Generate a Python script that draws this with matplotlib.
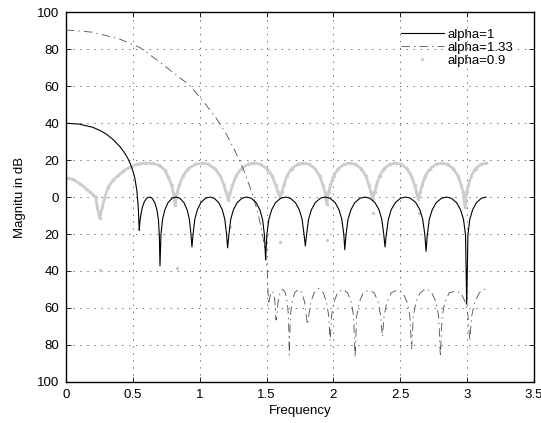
import numpy as np
import matplotlib
matplotlib.use("Agg")
import matplotlib.pyplot as plt

# alpha = 1 (solid black)
x_a1 = [0, 0.1, 0.2, 0.25, 0.3, 0.35, 0.4, 0.43, 0.46, 0.48, 0.5, 0.515, 0.53, 0.54, 0.548,
        0.553, 0.560, 0.571, 0.587, 0.607, 0.626, 0.644, 0.664, 0.680, 0.691, 0.698, 0.703,
        0.710, 0.722, 0.739, 0.763, 0.794, 0.8225, 0.851, 0.882, 0.906, 0.923, 0.935, 0.942,
        0.950, 0.963, 0.982, 1.009, 1.043, 1.0755, 1.108, 1.142, 1.169, 1.188, 1.201, 1.209,
        1.218, 1.232, 1.252, 1.280, 1.317, 1.351, 1.385, 1.422, 1.450, 1.470, 1.484, 1.493,
        1.502, 1.517, 1.538, 1.567, 1.606, 1.6415, 1.677, 1.716, 1.745, 1.766, 1.781, 1.790,
        1.799, 1.814, 1.835, 1.864, 1.903, 1.9385, 1.974, 2.013, 2.042, 2.063, 2.078, 2.085,
        2.094, 2.109, 2.131, 2.160, 2.199, 2.2355, 2.272, 2.311, 2.341, 2.362, 2.377, 2.386,
        2.395, 2.411, 2.432, 2.463, 2.503, 2.5395, 2.576, 2.616, 2.647, 2.668, 2.684, 2.693,
        2.702, 2.717, 2.739, 2.769, 2.809, 2.845, 2.881, 2.921, 2.951, 2.973, 2.988, 2.997,
        3.006, 3.020, 3.041, 3.070, 3.107, 3.1416]
y_a1 = [40, 39.5, 37.8, 36.2, 34.2, 31.3, 27.6, 24.8, 21.3, 18.2, 14.2, 10.2, 3.5, -5, -18,
        -13, -9.5, -5.5, -2.3, -0.4, 0, -0.6, -3.0, -6.9, -12.1, -20.5, -37.3,
        -20.5, -12.1, -6.9, -3.0, -0.6, 0, -0.6, -3.0, -6.9, -12.1, -20.5, -27,
        -20.5, -12.1, -6.9, -3.0, -0.6, 0, -0.6, -3.0, -6.9, -12.1, -20.5, -27.5,
        -20.5, -12.1, -6.9, -3.0, -0.6, 0, -0.6, -3.0, -6.9, -12.1, -20.5, -34,
        -20.5, -12.1, -6.9, -3.0, -0.6, 0, -0.6, -3.0, -6.9, -12.1, -20.5, -26.5,
        -20.5, -12.1, -6.9, -3.0, -0.6, 0, -0.6, -3.0, -6.9, -12.1, -20.5, -28.5,
        -20.5, -12.1, -6.9, -3.0, -0.6, 0, -0.6, -3.0, -6.9, -12.1, -20.5, -27,
        -20.5, -12.1, -6.9, -3.0, -0.6, 0, -0.6, -3.0, -6.9, -12.1, -20.5, -29.4,
        -20.5, -12.1, -6.9, -3.0, -0.6, 0, -0.6, -3.0, -6.9, -12.1, -20.5, -58,
        -20.5, -12.1, -6.9, -3.0, -0.6, 0]

# alpha = 1.33 (dash-dot)
x_a133 = [0, 0.2, 0.4, 0.553, 0.703, 0.8, 0.927, 1.03, 1.127, 1.2, 1.264, 1.33, 1.389, 1.43,
          1.464, 1.49, 1.505, 1.515,
          1.522, 1.532, 1.543, 1.554, 1.563, 1.571,
          1.577, 1.586, 1.601, 1.6205, 1.640, 1.655, 1.664, 1.670,
          1.678, 1.690, 1.7105, 1.7375, 1.7645, 1.785, 1.797, 1.805,
          1.815, 1.8305, 1.856, 1.890, 1.924, 1.9495, 1.965, 1.975,
          1.986, 2.003, 2.031, 2.0685, 2.106, 2.134, 2.151, 2.162,
          2.174, 2.193, 2.223, 2.264, 2.305, 2.335, 2.354, 2.366,
          2.379, 2.399, 2.432, 2.4755, 2.519, 2.552, 2.572, 2.585,
          2.598, 2.617, 2.6495, 2.6925, 2.7355, 2.768, 2.787, 2.800,
          2.813, 2.833, 2.866, 2.910, 2.954, 2.987, 3.007, 3.020,
          3.034, 3.056, 3.092, 3.1416]
y_a133 = [90.5, 89.3, 85.6, 81, 73, 67.5, 60.4, 51.5, 42.4, 34, 25, 14.5, 2.7, -7,
          -18, -29, -40, -58,
          -55, -52, -51, -52, -57, -66.6,
          -64.5, -57, -51.8, -50, -51.8, -57, -64.5, -85.6,
          -64.5, -57, -51.8, -50, -51.8, -57, -64.5, -69,
          -64.5, -57, -51.8, -49.5, -51.8, -57, -64.5, -78,
          -64.5, -57, -51.8, -50, -51.8, -57, -64.5, -87,
          -64.5, -57, -51.8, -50.5, -51.8, -57, -64.5, -75.6,
          -64.5, -57, -51.8, -50.5, -51.8, -57, -64.5, -82,
          -64.5, -57, -51.8, -49.5, -51.8, -57, -64.5, -86.5,
          -64.5, -57, -51.8, -51, -51.8, -57, -64.5, -78,
          -64.5, -57, -51.8, -49.5]

# alpha = 0.9 (light grey dots)
x_a09 = [0, 0.05, 0.105, 0.15, 0.18, 0.205, 0.222, 0.234, 0.253, 0.27, 0.29, 0.316, 0.35,
         0.391, 0.43, 0.479, 0.53, 0.591, 0.65, 0.703, 0.74, 0.765, 0.79, 0.805, 0.815,
         0.831, 0.847, 0.875, 0.915, 0.967, 1.0145, 1.062, 1.114, 1.154, 1.182, 1.198, 1.214,
         1.229, 1.245, 1.272, 1.3105, 1.3607, 1.407, 1.453, 1.5035, 1.542, 1.569, 1.585, 1.60,
         1.614, 1.628, 1.6525, 1.6875, 1.733, 1.775, 1.817, 1.8625, 1.8975, 1.922, 1.936, 1.95,
         1.964, 1.9775, 2.0016, 2.036, 2.0807, 2.122, 2.1633, 2.208, 2.2424, 2.2665, 2.2802, 2.294,
         2.3076, 2.3213, 2.3452, 2.3793, 2.4236, 2.4645, 2.5054, 2.5498, 2.5839, 2.6077, 2.6214, 2.635,
         2.649, 2.663, 2.6874, 2.7223, 2.7676, 2.8095, 2.8514, 2.8968, 2.9317, 2.9561, 2.970, 2.984,
         2.997, 3.009, 3.031, 3.063, 3.104, 3.1416]
y_a09 = [10.5, 9.6, 7.2, 4.6, 2.7, 1.2, 0, -5.6, -11.5, -5.6, 0, 5.4, 9,
         11.7, 14.2, 16.2, 17.8, 18.4, 18.2, 17.1, 14.5, 10.8, 6.3, 1.5, -4.5,
         2.5, 6.3, 11.5, 15.4, 17.8, 18.4, 17.8, 15.4, 11.5, 6.3, 2.5, -1.8,
         2.5, 6.3, 11.5, 15.4, 17.8, 18.4, 17.8, 15.4, 11.5, 6.3, 2.5, 0,
         2.5, 6.3, 11.5, 15.4, 17.8, 18.4, 17.8, 15.4, 11.5, 6.3, 2.5, -3.6,
         2.5, 6.3, 11.5, 15.4, 17.8, 18.4, 17.8, 15.4, 11.5, 6.3, 2.5, -1,
         2.5, 6.3, 11.5, 15.4, 17.8, 18.4, 17.8, 15.4, 11.5, 6.3, 2.5, -1,
         2.5, 6.3, 11.5, 15.4, 17.8, 18.4, 17.8, 15.4, 11.5, 6.3, 2.5, -5.4,
         2.5, 6.3, 11.5, 15.4, 17.8, 18.4]
# lone samples at the bottom of the nulls
x_a09_deep = [0.254, 0.828, 1.227, 1.60, 1.95, 2.298, 2.643]
y_a09_deep = [-39.5, -38.6, -16, -24.3, -23, -8.6, -8.6]

xticks = [0, 0.5, 1, 1.5, 2, 2.5, 3, 3.5]
xtick_labels = ["0", "0.5", "1", "1.5", "2", "2.5", "3", "3.5"]
yticks = [-100, -80, -60, -40, -20, 0, 20, 40, 60, 80, 100]
ytick_labels = ["100", "80", "60", "40", "20", "0", "20", "40", "60", "80", "100"]

plt.rcParams["font.family"] = ["Liberation Sans", "DejaVu Sans"]
plt.rcParams["font.size"] = 9.5
plt.rcParams["lines.scale_dashes"] = False

fig = plt.figure(figsize=(5.41, 4.23), dpi=100)
ax = fig.add_axes([0.122, 0.0976, 0.865, 0.873])

grey = "#cdcdcd"
ax.plot(x_a09, y_a09, color=grey, lw=2.0, zorder=2)
h3, = ax.plot(x_a09, y_a09, ls="none", marker=".", ms=3.0, color=grey, zorder=2,
              label="alpha=0.9")
ax.plot(x_a09_deep, y_a09_deep, ls="none", marker=".", ms=3.0, color=grey, zorder=2)
h1, = ax.plot(x_a1, y_a1, color="black", lw=0.8, zorder=4, label="alpha=1")
h2, = ax.plot(x_a133, y_a133, color="0.3", lw=0.6, dashes=(6, 3, 1, 3), zorder=3,
              label="alpha=1.33")

ax.set_xlim(0, 3.5)
ax.set_ylim(-100, 100)
ax.set_xticks(xticks)
ax.set_xticklabels(xtick_labels)
ax.set_yticks(yticks)
ax.set_yticklabels(ytick_labels)
ax.tick_params(direction="in", top=True, right=True, length=3.5, width=0.6, pad=5)
ax.grid(True, color="0.35", ls=(0, (1, 4)), lw=0.6)
for s in ax.spines.values():
    s.set_linewidth(1.0)

ax.set_xlabel("Frequency", labelpad=3)
ax.set_ylabel("Magnitu in dB", labelpad=8)

ax.legend(handles=[h1, h2, h3], loc="upper left", bbox_to_anchor=(0.715, 0.956),
          frameon=False, handlelength=3.3, handletextpad=0.25, labelspacing=0.05,
          borderpad=0, borderaxespad=0, markerscale=1.0)

fig.savefig("out.png", dpi=100)
